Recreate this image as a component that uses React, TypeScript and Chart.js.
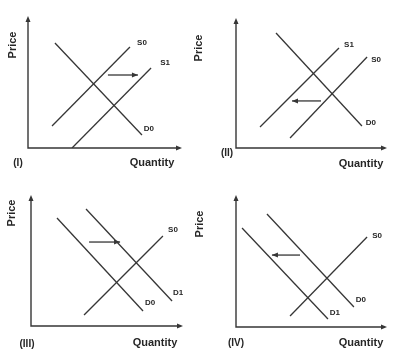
import React, { useEffect, useRef } from "react";
import { Chart, registerables } from "chart.js";

Chart.register(...registerables);

// ---- Text ----
const xAxisTitle = "Quantity";
const yAxisTitle = "Price";
const panelNames = ["(I)", "(II)", "(III)", "(IV)"];

// ---- Data (curve endpoints in axis units 0..10) ----
// Panel I: supply shifts right
const p1Names = ["S0", "S1", "D0"];
const p1S0 = [[1.56, 1.67], [6.62, 7.65]];
const p1S1 = [[2.86, 0.0], [7.99, 6.06]];
const p1D0 = [[1.75, 7.95], [7.4, 0.98]];
const p1Shift = [[5.19, 5.53], [7.14, 5.53]];

// Panel II: supply shifts left
const p2Names = ["S1", "S0", "D0"];
const p2S1 = [[1.59, 1.62], [6.82, 7.69]];
const p2S0 = [[3.58, 0.77], [8.68, 7.0]];
const p2D0 = [[2.65, 8.85], [8.34, 1.69]];
const p2Shift = [[5.63, 3.62], [3.71, 3.62]];

// Panel III: demand shifts right
const p3Names = ["D0", "D1", "S0"];
const p3D0 = [[1.71, 8.24], [7.37, 1.15]];
const p3D1 = [[3.62, 8.93], [9.28, 1.91]];
const p3S0 = [[3.49, 0.84], [8.68, 6.87]];
const p3Shift = [[3.82, 6.41], [5.86, 6.41]];

// Panel IV: demand shifts left
const p4Names = ["D1", "D0", "S0"];
const p4D1 = [[0.4, 7.5], [6.09, 0.61]];
const p4D0 = [[2.05, 8.56], [7.81, 1.52]];
const p4S0 = [[3.58, 0.83], [8.68, 6.82]];
const p4Shift = [[4.24, 5.45], [2.38, 5.45]];

const INK = "#363636";
const TEXT = "#262626";
const FONT = '"Liberation Sans", Arial, sans-serif';

type PanelCfg = {
  name: string;
  names: string[];
  curves: number[][][];
  shift: number[][];
  labelOffsets: number[][];
  left: number;
  top: number;
  width: number;
  height: number;
  padding: { left: number; right: number; top: number; bottom: number };
  price: number[]; // dx from area left, dy from area top
  quantity: number[]; // dx from area right, dy from area bottom
  numeral: number[]; // dx from area left, dy from area bottom
};

const panels: PanelCfg[] = [
  {
    name: panelNames[0],
    names: p1Names,
    curves: [p1S0, p1S1, p1D0],
    shift: p1Shift,
    labelOffsets: [[12, -4], [14, -5], [7, -6]],
    left: 0, top: 0, width: 204, height: 180,
    padding: { left: 28, right: 22, top: 16, bottom: 32 },
    price: [-15, 29], quantity: [-30, 15], numeral: [-10, 15],
  },
  {
    name: panelNames[1],
    names: p2Names,
    curves: [p2S1, p2S0, p2D0],
    shift: p2Shift,
    labelOffsets: [[10, -3], [9, 3], [9, -3]],
    left: 190, top: 0, width: 217, height: 180,
    padding: { left: 46, right: 20, top: 18, bottom: 32 },
    price: [-37, 30], quantity: [-26, 16], numeral: [-9, 5],
  },
  {
    name: panelNames[2],
    names: p3Names,
    curves: [p3D0, p3D1, p3S0],
    shift: p3Shift,
    labelOffsets: [[7, -8], [6, -8], [10, -6]],
    left: 0, top: 180, width: 204, height: 180,
    padding: { left: 31, right: 21, top: 15, bottom: 34 },
    price: [-19, 18], quantity: [-28, 17], numeral: [-4, 18],
  },
  {
    name: panelNames[3],
    names: p4Names,
    curves: [p4D1, p4D0, p4S0],
    shift: p4Shift,
    labelOffsets: [[7, -6], [7, -7], [10, -1]],
    left: 190, top: 180, width: 217, height: 180,
    padding: { left: 46, right: 20, top: 15, bottom: 33 },
    price: [-36, 29], quantity: [-26, 16], numeral: [0, 16],
  },
];

function arrowHead(ctx: CanvasRenderingContext2D, x: number, y: number, ang: number, len: number, half: number) {
  ctx.save();
  ctx.translate(x, y);
  ctx.rotate(ang);
  ctx.beginPath();
  ctx.moveTo(0, 0);
  ctx.lineTo(-len, -half);
  ctx.lineTo(-len, half);
  ctx.closePath();
  ctx.fill();
  ctx.restore();
}

function Panel({ cfg }: { cfg: PanelCfg }) {
  const ref = useRef<HTMLCanvasElement | null>(null);
  useEffect(() => {
    if (!ref.current) return;
    const toPts = (a: number[][]) => a.map((p) => ({ x: p[0], y: p[1] }));
    const datasets: any[] = cfg.curves.map((c, i) => ({
      label: cfg.names[i],
      data: toPts(c),
      showLine: true,
      borderColor: INK,
      borderWidth: 1.3,
      pointRadius: 0,
      fill: false,
    }));
    datasets.push({
      label: "shift",
      data: toPts(cfg.shift),
      showLine: true,
      borderColor: INK,
      borderWidth: 1.3,
      pointRadius: 0,
      fill: false,
    });

    const decor = {
      id: "decor",
      afterDatasetsDraw(chart: any) {
        const { ctx, chartArea: a, scales } = chart;
        const xs = scales.x;
        const ys = scales.y;
        ctx.save();
        ctx.strokeStyle = INK;
        ctx.fillStyle = INK;
        ctx.lineWidth = 1.4;
        // axes
        ctx.beginPath();
        ctx.moveTo(a.left, a.top + 3);
        ctx.lineTo(a.left, a.bottom);
        ctx.lineTo(a.right - 3, a.bottom);
        ctx.stroke();
        arrowHead(ctx, a.left, a.top, -Math.PI / 2, 6, 2.5);
        arrowHead(ctx, a.right, a.bottom, 0, 6, 2.5);
        // shift arrow head
        const s0 = cfg.shift[0];
        const s1 = cfg.shift[cfg.shift.length - 1];
        const px0 = xs.getPixelForValue(s0[0]);
        const py0 = ys.getPixelForValue(s0[1]);
        const px1 = xs.getPixelForValue(s1[0]);
        const py1 = ys.getPixelForValue(s1[1]);
        arrowHead(ctx, px1, py1, Math.atan2(py1 - py0, px1 - px0), 6, 2.5);
        // curve labels
        ctx.fillStyle = TEXT;
        ctx.font = `bold 8px ${FONT}`;
        ctx.textAlign = "center";
        ctx.textBaseline = "middle";
        cfg.curves.forEach((c, i) => {
          const e = c[c.length - 1];
          const off = cfg.labelOffsets[i];
          ctx.fillText(cfg.names[i], xs.getPixelForValue(e[0]) + off[0], ys.getPixelForValue(e[1]) + off[1]);
        });
        // axis titles
        ctx.font = `bold 11px ${FONT}`;
        ctx.fillText(xAxisTitle, a.right + cfg.quantity[0], a.bottom + cfg.quantity[1]);
        ctx.font = `bold 10px ${FONT}`;
        ctx.fillText(cfg.name, a.left + cfg.numeral[0], a.bottom + cfg.numeral[1]);
        ctx.save();
        ctx.translate(a.left + cfg.price[0], a.top + cfg.price[1]);
        ctx.rotate(-Math.PI / 2);
        ctx.font = `bold 11px ${FONT}`;
        ctx.fillText(yAxisTitle, 0, 0);
        ctx.restore();
        ctx.restore();
      },
    };

    const chart = new Chart(ref.current, {
      type: "scatter",
      data: { datasets },
      options: {
        animation: false,
        responsive: false,
        devicePixelRatio: 1,
        layout: { padding: cfg.padding },
        plugins: { legend: { display: false }, tooltip: { enabled: false }, title: { display: false } },
        scales: {
          x: { type: "linear", min: 0, max: 10, display: false },
          y: { type: "linear", min: 0, max: 10, display: false },
        },
        elements: { line: { tension: 0 } },
      } as any,
      plugins: [decor],
    });
    return () => chart.destroy();
  }, [cfg]);
  return (
    <canvas
      ref={ref}
      width={cfg.width}
      height={cfg.height}
      style={{ position: "absolute", left: cfg.left, top: cfg.top, width: cfg.width, height: cfg.height }}
    />
  );
}

export default function App() {
  return (
    <div style={{ position: "fixed", left: 0, top: 0, width: 407, height: 360, background: "#fff", overflow: "hidden" }}>
      {panels.map((p, i) => (
        <Panel key={i} cfg={p} />
      ))}
    </div>
  );
}
